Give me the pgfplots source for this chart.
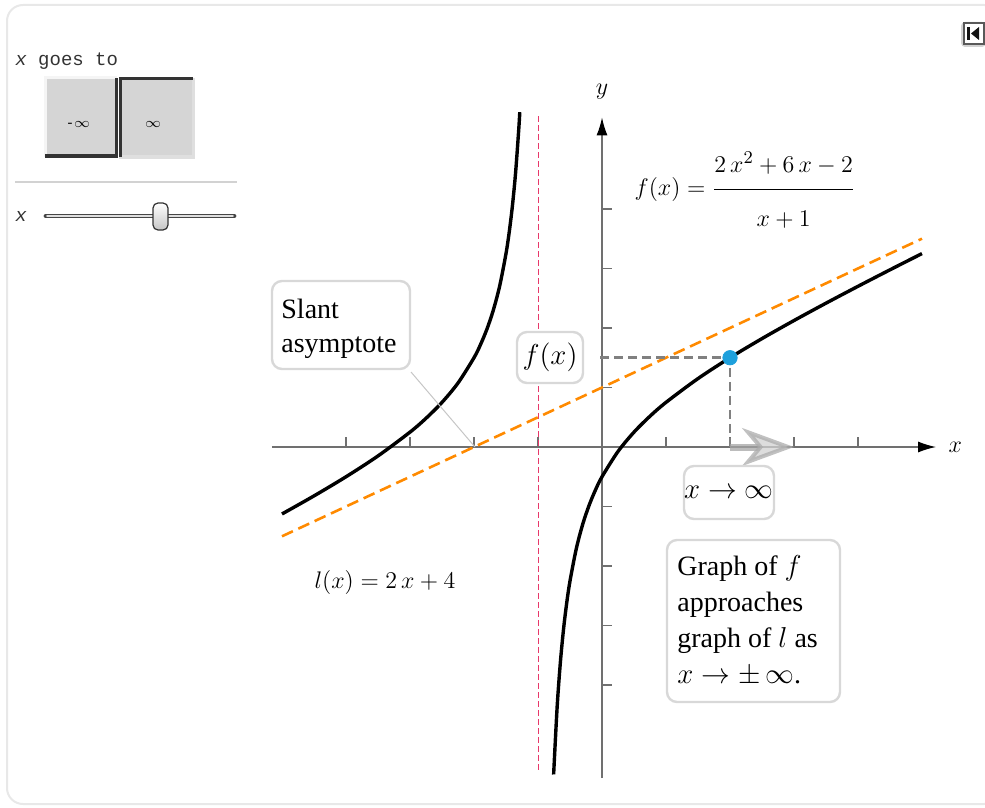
\documentclass[border=0pt]{standalone}
\usepackage{pgfplots}
\pgfplotsset{compat=1.18}
\usepackage{fontspec}
\setmainfont{Liberation Serif}
\newfontfamily\monof{Liberation Mono}
\usetikzlibrary{arrows.meta}
\definecolor{axgray}{HTML}{707070}
\definecolor{forange}{HTML}{FF8A00}
\definecolor{fred}{HTML}{E8386A}
\definecolor{fblue}{HTML}{1EA0DC}
\definecolor{boxgray}{HTML}{D8D8D8}
\definecolor{btn}{HTML}{D5D5D5}
\newcommand{\tsize}{\fontsize{13}{18}\selectfont}
\begin{document}
\begin{tikzpicture}
\useasboundingbox (0,0) rectangle (492.5pt,-404pt);
\begin{scope}[x=0.5pt,y=-0.5pt]
  % outer frame
  \draw[gray!18, line width=1pt, rounded corners=8] (7,5) rectangle (1000,804);
  % left panel
  \node[anchor=base west, inner sep=0, text=gray!40!black] at (15,66) {\monof\fontsize{9.5}{10}\selectfont\textit{x} goes to};
  \fill[btn] (45,78) rectangle (117,157);
  \draw[gray!8, line width=1.5pt] (45,157) -- (45,78) -- (117,78);
  \draw[gray!40!black, line width=1.5pt] (45,156) -- (116,156) -- (116,78);
  \fill[btn] (119,78) rectangle (193,157);
  \draw[gray!25, line width=1.5pt] (119,157) -- (193,157) -- (193,78);
  \draw[gray!40!black, line width=1.5pt] (120,157) -- (120,79) -- (193,79);
  \node[inner sep=0] at (78,124) {\monof\fontsize{7}{7}\selectfont -$\infty$};
  \node[inner sep=0] at (153,124) {\monof\fontsize{7}{7}\selectfont $\infty$};
  \draw[gray!35, line width=0.6pt] (15,182) -- (237,182);
  \node[anchor=base west, inner sep=0, text=gray!40!black] at (15,221) {\monof\fontsize{9.5}{10}\selectfont\textit{x}};
  \draw[gray!55!black, line width=2.4pt, line cap=round] (46,216) -- (234,216);
  \draw[gray!25, line width=0.8pt, line cap=round] (47,216) -- (233,216);
  \shade[top color=white, bottom color=gray!45, draw=gray!40!black, line width=0.6pt, rounded corners=2.5] (153,203) rectangle (168,230);
  % icon top right
  \fill[gray!35, rounded corners=2] (961,22) rectangle (986,47);
  \fill[white] (964,23) rectangle (984,44);
  \draw[gray!70!black, line width=0.8pt] (964,23) rectangle (984,44);
  \fill[gray!15!black] (967,27) rectangle (970,40);
  \fill[gray!15!black] (979,27) -- (979,40) -- (971,33.5) -- cycle;
\end{scope}
\begin{axis}[at={(301pt,-223.5pt)}, anchor=origin,
  x=32pt, y=7.44pt,
  xmin=-5.16, xmax=5.22, ymin=-22.25, ymax=22.15,
  axis lines=middle, clip=false,
  xtick={-4,-3,-2,-1,1,2,3,4}, ytick={-16,-12,-8,-4,4,8,12,16},
  xticklabels={}, yticklabels={},
  tick align=inside, major tick length=5pt,
  tick style={axgray, line width=0.6pt},
  axis line style={axgray, line width=0.7pt},
  x axis line style={-{Latex[color=black,length=9pt,width=5.5pt]}},
  y axis line style={-{Latex[color=black,length=9pt,width=5.5pt]}},
]
% vertical asymptote
\addplot[fred, line width=0.5pt, dash pattern=on 3pt off 1.5pt] coordinates {(-1,-21.7) (-1,22.4)};
% slant asymptote
\addplot[forange, line width=1.3pt, dash pattern=on 6pt off 3pt] coordinates {(-5,-6) (5,14)};
% left branch
\addplot[black, line width=1.7pt, smooth] coordinates {
(-5,-4.5) (-4.5,-3.2857) (-4,-2) (-3.5,-0.6) (-3,1) (-2.75,1.9286) (-2.5,3)
(-2.25,4.3) (-2,6) (-1.9,6.8667) (-1.8,7.9) (-1.7,9.1714) (-1.6,10.8) (-1.5,13)
(-1.45,14.433) (-1.4,16.2) (-1.35,18.443) (-1.3,21.4) (-1.2848,22.5)};
% right branch
\addplot[black, line width=1.7pt, smooth] coordinates {
(-0.755,-22) (-0.75,-21.5) (-0.7,-17.4) (-0.65,-14.443) (-0.6,-12.2) (-0.55,-10.433)
(-0.5,-9) (-0.4,-6.8) (-0.3,-5.171) (-0.2,-3.9) (-0.1,-2.867) (0,-2) (0.25,-0.3)
(0.5,1) (0.75,2.0714) (1,3) (1.5,4.6) (2,6) (2.5,7.2857) (3,8.5) (3.5,9.6667)
(4,10.8) (4.5,11.909) (5,13)};
% guide lines
\addplot[gray, line width=1.4pt, dash pattern=on 4.5pt off 2.5pt] coordinates {(-0.03,6) (2,6) (2,0)};
% moving arrow
\addplot[gray!70, opacity=0.75, line width=3.5pt,
  -{Stealth[length=26pt,width=19pt,inset=8pt,line width=2pt,fill=gray!35,color=gray!65]}]
  coordinates {(2,0) (3,0)};
% point
\addplot[only marks, mark=*, mark size=3.6pt, fblue, mark options={draw=fblue}] coordinates {(2,6)};
% axis labels
\node at (axis cs:5.52,0) {\tsize$x$};
\node at (axis cs:0,23.9) {\tsize$y$};
\end{axis}
\begin{scope}[x=0.5pt,y=-0.5pt]
  % boxes
  \draw[boxgray, line width=1.2pt, fill=white, rounded corners=5] (272,281) rectangle (410,369);
  \node[anchor=base west, align=left, inner sep=0, font=\fontsize{14}{17}\selectfont] at (281,352) {Slant\\asymptote};
  \draw[gray!45, line width=0.5pt] (411,372) -- (475,447);
  \draw[boxgray, line width=1.2pt, fill=white, rounded corners=5] (517,332) rectangle (583,383);
  \node at (550,357) {\fontsize{14}{18}\selectfont$f(x)$};
  \draw[boxgray, line width=1.2pt, fill=white, rounded corners=5] (684,466) rectangle (774,519);
  \node at (729,492) {\fontsize{14}{18}\selectfont$x\rightarrow\infty$};
  \draw[boxgray, line width=1.2pt, fill=white, rounded corners=5] (667,540) rectangle (840,702);
  \node[anchor=base west, align=left, inner sep=0, font=\fontsize{14}{18}\selectfont] at (677,683)
    {Graph of $f$\\approaches\\graph of $l$ as\\$x\rightarrow\pm\,\infty$.};
  \node[anchor=base] at (385,588) {\tsize$l(x)=2\,x+4$};
  \node at (745,190) {\tsize$f(x)=\displaystyle\frac{2\,x^2+6\,x-2\rule[-7pt]{0pt}{0pt}}{\rule{0pt}{17pt}x+1}$};
\end{scope}
\end{tikzpicture}
\end{document}
